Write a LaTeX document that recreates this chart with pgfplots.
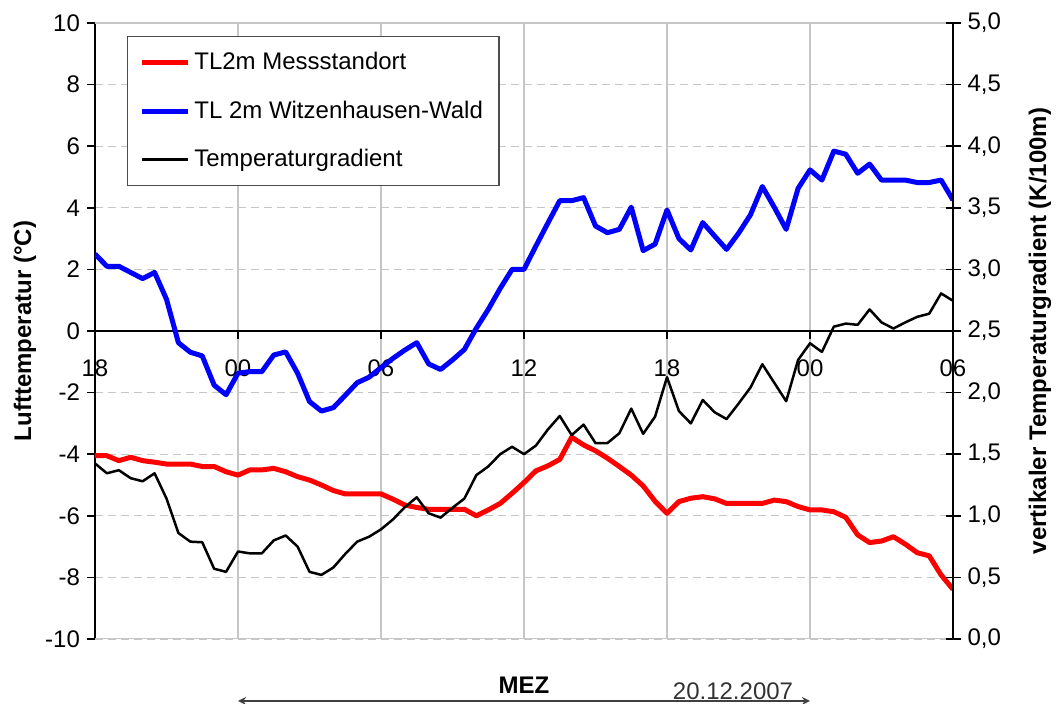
\documentclass[border=0pt]{standalone}
\usepackage{pgfplots}
\pgfplotsset{compat=1.18}
\usepackage{fontspec}
\setmainfont{Liberation Sans}

% half-hourly values, hours counted from 18:00 on the first evening
\pgfplotstableread{
h     mess   wald
0     -4.05  2.50
0.5   -4.05  2.10
1     -4.21  2.10
1.5   -4.10  1.90
2     -4.21  1.70
2.5   -4.26  1.90
3     -4.32  1.03
3.5   -4.32 -0.38
4     -4.32 -0.69
4.5   -4.40 -0.81
5     -4.40 -1.76
5.5   -4.57 -2.07
6     -4.68 -1.37
6.5   -4.51 -1.32
7     -4.51 -1.32
7.5   -4.46 -0.78
8     -4.57 -0.68
8.5   -4.73 -1.37
9     -4.84 -2.29
9.5   -5.00 -2.60
10    -5.18 -2.49
10.5  -5.29 -2.09
11    -5.29 -1.68
11.5  -5.29 -1.50
12    -5.29 -1.19
12.5  -5.46 -0.89
13    -5.65 -0.62
13.5  -5.73 -0.38
14    -5.79 -1.07
14.5  -5.79 -1.25
15    -5.79 -0.94
15.5  -5.79 -0.60
16    -6.00  0.09
16.5  -5.81  0.70
17    -5.60  1.38
17.5  -5.27  2.00
18    -4.92  2.00
18.5  -4.54  2.76
19    -4.38  3.50
19.5  -4.17  4.23
20    -3.45  4.23
20.5  -3.70  4.33
21    -3.89  3.41
21.5  -4.13  3.19
22    -4.40  3.30
22.5  -4.68  4.02
23    -5.03  2.61
23.5  -5.53  2.82
24    -5.92  3.93
24.5  -5.54  3.00
25    -5.43  2.63
25.5  -5.38  3.52
26    -5.45  3.08
26.5  -5.60  2.65
27    -5.60  3.17
27.5  -5.60  3.77
28    -5.60  4.69
28.5  -5.49  4.02
29    -5.54  3.30
29.5  -5.70  4.63
30    -5.81  5.23
30.5  -5.81  4.90
31    -5.87  5.84
31.5  -6.05  5.74
32    -6.62  5.12
32.5  -6.87  5.42
33    -6.82  4.90
33.5  -6.68  4.90
34    -6.92  4.90
34.5  -7.20  4.82
35    -7.30  4.82
35.5  -7.92  4.90
36    -8.39  4.25
}\temps

\pgfplotstableread{
h     grad
0     1.425
0.5   1.345
1     1.370
1.5   1.305
2     1.280
2.5   1.345
3     1.140
3.5   0.860
4     0.790
4.5   0.785
5     0.570
5.5   0.545
6     0.710
6.5   0.695
7     0.695
7.5   0.800
8     0.840
8.5   0.750
9     0.545
9.5   0.520
10    0.580
10.5  0.690
11    0.790
11.5  0.830
12    0.890
12.5  0.970
13    1.070
13.5  1.150
14    1.020
14.5  0.985
15    1.065
15.5  1.140
16    1.330
16.5  1.400
17    1.500
17.5  1.560
18    1.500
18.5  1.570
19    1.700
19.5  1.810
20    1.655
20.5  1.740
21    1.590
21.5  1.590
22    1.670
22.5  1.870
23    1.665
23.5  1.805
24    2.125
24.5  1.850
25    1.750
25.5  1.940
26    1.840
26.5  1.785
27    1.910
27.5  2.040
28    2.230
28.5  2.080
29    1.930
29.5  2.265
30    2.400
30.5  2.330
31    2.535
31.5  2.560
32    2.550
32.5  2.675
33    2.570
33.5  2.520
34    2.570
34.5  2.615
35    2.640
35.5  2.805
36    2.745
}\gradient

\pgfplotsset{
  base/.style={
    width=429pt, height=308pt, scale only axis,
    at={(0,0)}, anchor=south west,
    xmin=0, xmax=36,
    /pgf/number format/assume math mode=true,
    every tick label/.append style={font=\fontsize{12}{14}\selectfont},
    label style={font=\fontsize{12}{14}\selectfont},
    axis line style={black, line width=0.8pt},
    tick style={black, line width=0.8pt},
  }
}

\begin{document}
\begin{tikzpicture}
\begin{axis}[base,
  ymin=-10, ymax=10,
  axis x line*=middle, axis y line*=left,
  hide obscured x ticks=false,
  xtick={0,6,...,36}, xticklabels={18,00,06,12,18,00,06},
  ytick={-10,-8,...,10},
  xtick align=outside, ytick align=outside,
  major tick length=4pt,
  xmajorgrids, ymajorgrids,
  x grid style={gray!45, line width=0.6pt},
  y grid style={gray!45, line width=0.6pt, dash pattern=on 4pt off 2.5pt},
  xticklabel style={anchor=north, yshift=-7pt},
  xlabel={\textbf{MEZ}},
  xlabel style={at={(axis description cs:0.5,0)}, anchor=center, yshift=-23pt},
  ylabel={\textbf{Lufttemperatur (°C)}},
  ylabel style={at={(axis description cs:-0.0816,0.5)}, anchor=center},
  legend style={at={(axis description cs:0.037,0.979)}, anchor=north west,
    draw=black!70, line width=0.6pt, font=\fontsize{12}{14}\selectfont,
    row sep=10pt, inner xsep=6pt, inner ysep=6pt},
  legend cell align=left,
  legend image code/.code={\draw[#1] (0pt,0pt) -- (23pt,0pt);},
]
\draw[gray!45, line width=0.6pt] (axis cs:0,10) -- (axis cs:36,10);
\draw[gray!45, line width=0.6pt] (axis cs:0,-10) -- (axis cs:36,-10);
\addplot[red, line width=2.5pt, line join=round] table[x=h, y=mess] {\temps};
\addlegendentry{TL2m Messstandort}
\addplot[blue, line width=2.5pt, line join=round] table[x=h, y=wald] {\temps};
\addlegendentry{TL 2m Witzenhausen-Wald}
\addlegendimage{black, line width=1.25pt}
\addlegendentry{Temperaturgradient}
\end{axis}

\begin{axis}[base,
  ymin=0, ymax=5,
  axis x line=none, axis y line*=right,
  ytick={0,0.5,...,5},
  ytick align=center, major tick length=7.5pt,
  yticklabel style={/pgf/number format/.cd, fixed, fixed zerofill, precision=1, use comma},
  ylabel={\textbf{vertikaler Temperaturgradient (K/100m)}},
  ylabel style={at={(axis description cs:1.1014,0.5)}, anchor=center},
]
\addplot[black, line width=1.25pt, line join=round] table[x=h, y=grad] {\gradient};
\end{axis}

\draw[black!75, line width=0.8pt, <->, >=stealth] (71.5pt,-31pt) -- (357.5pt,-31pt);
\node[black!80, font=\fontsize{12}{13}\selectfont] at (319pt,-26pt) {20.12.2007};

\pgfresetboundingbox
\useasboundingbox (-47.5pt,-32.5pt) rectangle (480.5pt,319.5pt);
\end{tikzpicture}
\end{document}
